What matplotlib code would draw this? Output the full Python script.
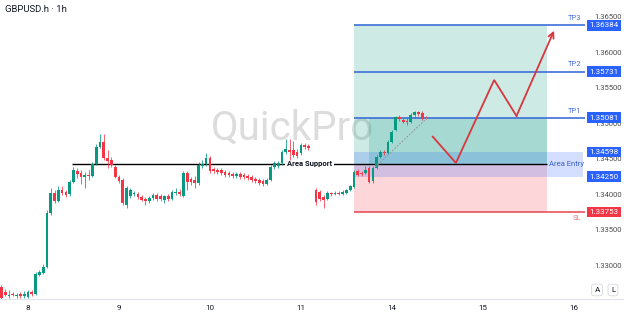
import numpy as np
import matplotlib.pyplot as plt
from matplotlib.lines import Line2D

plt.rcParams['font.family'] = ['Roboto', 'DejaVu Sans']

# hourly bars, 0 = day 8 00:00 (weekend removed, one bar missing before the gap)
bars = list(range(-7, 75)) + list(range(76, 106))

opens = [1.32697, 1.32627, 1.32571, 1.32599, 1.32571, 1.32599, 1.32571, 1.32556, 1.32627, 1.32599,
         1.32866, 1.32894, 1.32979, 1.33739, 1.34021, 1.33908, 1.34063, 1.34035, 1.34007, 1.34176,
         1.34331, 1.34303, 1.34246, 1.34275, 1.34261, 1.34430, 1.34669, 1.34739, 1.34514, 1.34486,
         1.34387, 1.34246, 1.34204, 1.33852, 1.33979, 1.34007, 1.34007, 1.33965, 1.33937, 1.33908,
         1.33951, 1.33993, 1.33979, 1.33923, 1.33979, 1.33937, 1.34021, 1.34035, 1.33979, 1.34303,
         1.34218, 1.34204, 1.34162, 1.34401, 1.34430, 1.34514, 1.34359, 1.34345, 1.34345, 1.34317,
         1.34303, 1.34289, 1.34261, 1.34289, 1.34275, 1.34261, 1.34246, 1.34218, 1.34204, 1.34190,
         1.34148, 1.34204, 1.34387, 1.34401, 1.34444, 1.34599, 1.34627, 1.34627, 1.34599, 1.34584,
         1.34697, 1.34683,
         1.34063, 1.34035, 1.33965, 1.33937, 1.34021, 1.34007, 1.34021, 1.34007, 1.34021, 1.34063,
         1.34106, 1.34331, 1.34303, 1.34303, 1.34373, 1.34190, 1.34373, 1.34528, 1.34599, 1.34584,
         1.34739, 1.34908, 1.35092, 1.35049, 1.35035, 1.35021, 1.35120, 1.35162, 1.35148, 1.35092]
highs = [1.32725, 1.32669, 1.32655, 1.32627, 1.32613, 1.32627, 1.32641, 1.32655, 1.32655, 1.32908,
         1.32937, 1.33021, 1.33782, 1.34092, 1.34063, 1.34120, 1.34120, 1.34063, 1.34204, 1.34387,
         1.34373, 1.34345, 1.34317, 1.34345, 1.34458, 1.34711, 1.34852, 1.34852, 1.34627, 1.34528,
         1.34415, 1.34275, 1.34232, 1.34120, 1.34092, 1.34049, 1.34035, 1.33993, 1.33965, 1.33979,
         1.34021, 1.34021, 1.34007, 1.33993, 1.34007, 1.34063, 1.34092, 1.34078, 1.34331, 1.34331,
         1.34246, 1.34261, 1.34458, 1.34486, 1.34584, 1.34542, 1.34387, 1.34373, 1.34373, 1.34345,
         1.34331, 1.34317, 1.34317, 1.34317, 1.34303, 1.34289, 1.34275, 1.34246, 1.34232, 1.34218,
         1.34232, 1.34415, 1.34472, 1.34472, 1.34627, 1.34782, 1.34782, 1.34753, 1.34641, 1.34725,
         1.34725, 1.34711,
         1.34092, 1.34063, 1.33993, 1.34049, 1.34035, 1.34049, 1.34049, 1.34063, 1.34078, 1.34134,
         1.34345, 1.34359, 1.34331, 1.34401, 1.34401, 1.34401, 1.34556, 1.34627, 1.34627, 1.34767,
         1.34908, 1.35106, 1.35120, 1.35077, 1.35077, 1.35148, 1.35176, 1.35176, 1.35176, 1.35106]
lows = [1.32528, 1.32571, 1.32542, 1.32571, 1.32542, 1.32542, 1.32542, 1.32542, 1.32571, 1.32585,
        1.32852, 1.32880, 1.32965, 1.33711, 1.33880, 1.33894, 1.33993, 1.33965, 1.33979, 1.34162,
        1.34232, 1.34148, 1.34092, 1.34204, 1.34246, 1.34415, 1.34655, 1.34486, 1.34373, 1.34387,
        1.34232, 1.34162, 1.33852, 1.33810, 1.33951, 1.33979, 1.33937, 1.33908, 1.33852, 1.33880,
        1.33923, 1.33908, 1.33908, 1.33880, 1.33908, 1.33923, 1.33993, 1.33979, 1.33965, 1.34063,
        1.34134, 1.34092, 1.34134, 1.34373, 1.34401, 1.34303, 1.34303, 1.34289, 1.34275, 1.34246,
        1.34246, 1.34232, 1.34232, 1.34218, 1.34218, 1.34204, 1.34176, 1.34162, 1.34134, 1.34120,
        1.34134, 1.34190, 1.34359, 1.34373, 1.34415, 1.34570, 1.34486, 1.34528, 1.34514, 1.34556,
        1.34641, 1.34627,
        1.33852, 1.33908, 1.33810, 1.33923, 1.33979, 1.33993, 1.33993, 1.33993, 1.34007, 1.34049,
        1.34092, 1.34261, 1.34261, 1.34289, 1.34162, 1.34162, 1.34359, 1.34514, 1.34556, 1.34570,
        1.34725, 1.34894, 1.35035, 1.35007, 1.34979, 1.35007, 1.35092, 1.35106, 1.35049, 1.35063]
closes = [1.32542, 1.32585, 1.32585, 1.32585, 1.32585, 1.32571, 1.32599, 1.32627, 1.32599, 1.32880,
          1.32908, 1.32979, 1.33739, 1.34021, 1.33908, 1.34063, 1.34021, 1.33993, 1.34176, 1.34345,
          1.34289, 1.34246, 1.34275, 1.34261, 1.34430, 1.34669, 1.34739, 1.34514, 1.34472, 1.34415,
          1.34246, 1.34190, 1.33880, 1.34092, 1.34063, 1.34021, 1.33965, 1.33923, 1.33908, 1.33951,
          1.33993, 1.33937, 1.33937, 1.33979, 1.33937, 1.34035, 1.34035, 1.34007, 1.34303, 1.34176,
          1.34176, 1.34162, 1.34415, 1.34430, 1.34514, 1.34331, 1.34331, 1.34317, 1.34303, 1.34275,
          1.34275, 1.34261, 1.34289, 1.34246, 1.34246, 1.34232, 1.34204, 1.34190, 1.34162, 1.34148,
          1.34204, 1.34387, 1.34444, 1.34444, 1.34599, 1.34641, 1.34599, 1.34556, 1.34542, 1.34697,
          1.34669, 1.34655,
          1.33894, 1.33937, 1.33923, 1.34021, 1.34007, 1.34021, 1.34007, 1.34035, 1.34063, 1.34120,
          1.34317, 1.34275, 1.34289, 1.34345, 1.34176, 1.34373, 1.34528, 1.34599, 1.34584, 1.34739,
          1.34880, 1.35092, 1.35063, 1.35021, 1.35021, 1.35120, 1.35162, 1.35134, 1.35063, 1.35077]

day_ticks = [0, 24, 48, 72, 96, 120, 144]
day_labels = ['8', '9', '10', '11', '14', '15', '16']
price_ticks = [1.330, 1.335, 1.340, 1.345, 1.350, 1.355, 1.360, 1.365]

# trade setup
support = 1.34430
entry_top, entry_bottom = 1.34598, 1.34250
tp1, tp2, tp3 = 1.35081, 1.35731, 1.36384
sl = 1.33753
setup_start, setup_start2, setup_end = 86, 90, 137

# projected path
path_x = [106.8, 112.9, 123.0, 128.9, 138.8]
path_y = [1.34814, 1.34444, 1.35613, 1.35106, 1.36307]
trend_x = [91.6, 105.3]
trend_y = [1.34387, 1.35077]

green, red, blue = '#089981', '#f23645', '#2962ff'

fig = plt.figure(figsize=(6.24, 3.16), dpi=100)
ax = fig.add_axes([0, 17/316, 585/624, 299/316])
ax.set_xlim(-7.39, 146.97)
ax.set_ylim(1.32528, 1.36739)
for s in ax.spines.values():
    s.set_visible(False)

# watermark
ax.text(69.9, 1.34936, 'QuickPro', fontsize=29, color='#dcdcdc',
        ha='center', va='center', zorder=0)

# position zones
ax.fill_between([setup_start, setup_end], support, tp3, color=green, alpha=0.2, lw=0, zorder=1)
ax.fill_between([setup_start2, setup_end], support, tp1, color=green, alpha=0.2, lw=0, zorder=1)
ax.fill_between([setup_start, setup_end], sl, support, color=red, alpha=0.2, lw=0, zorder=1)
ax.fill_between([setup_start, 146.4], entry_bottom, entry_top, color=blue, alpha=0.2, lw=0, zorder=1)

for p, lab in [(tp1, 'TP1'), (tp2, 'TP2'), (tp3, 'TP3')]:
    ax.hlines(p, setup_start, 147, color='#3d6ed8', lw=1.2, zorder=2)
    ax.annotate(lab, (144.3, p), xytext=(0, 3), textcoords='offset points',
                fontsize=5.5, color='#4a72d6', ha='center', va='bottom')
ax.hlines(sl, setup_start, 147, color='#e5535d', lw=1.2, zorder=2)
ax.annotate('SL', (144.8, sl), xytext=(0, -2), textcoords='offset points',
            fontsize=5.5, color='#e57c84', ha='center', va='top')
ax.text(142.2, support, 'Area Entry', fontsize=5.5, color='#3d63c9', ha='center', va='center')

# support line
ax.hlines(support, 11.6, setup_end, color='black', lw=1, zorder=2)
ax.text(74.4, support, 'Area Support', fontsize=5.5, fontweight='bold', color='#131722',
        ha='center', va='center', zorder=3,
        bbox=dict(boxstyle='square,pad=0.25', fc='white', ec='none'))

# candles
o = np.array(opens); h = np.array(highs); l = np.array(lows); c = np.array(closes)
cols = [green if cc >= oo else red for oo, cc in zip(o, c)]
ax.vlines(bars, l, h, colors=cols, lw=0.7, alpha=0.8, zorder=4)
body = np.maximum(np.abs(c - o), 0.00006)
ax.bar(bars, body, bottom=np.minimum(o, c), width=0.72, color=cols, lw=0, zorder=5)

ax.plot(trend_x, trend_y, color='#9598a1', lw=0.8, ls=(0, (1.5, 1.5)), zorder=6)

# projected move
ax.plot(path_x[:-1], path_y[:-1], color='#d9363e', lw=1.3, zorder=6, solid_joinstyle='miter')
ax.annotate('', xy=(path_x[-1], path_y[-1]), xytext=(path_x[-2], path_y[-2]),
            arrowprops=dict(arrowstyle='->', color='#d9363e', lw=1.3, mutation_scale=10,
                            shrinkA=0, shrinkB=0), zorder=6)

# axes
ax.set_xticks(day_ticks)
ax.set_xticklabels(day_labels)
ax.yaxis.tick_right()
ax.set_yticks(price_ticks)
ax.set_yticklabels([f'{p:.5f}' for p in price_ticks])
ax.tick_params(axis='x', length=0, pad=4, labelsize=5.8, labelcolor='#131722')
ax.tick_params(axis='y', length=0, pad=7, labelsize=5.5, labelcolor='#4a4a4a')

# price badges
for p, col in [(tp3, blue), (tp2, blue), (tp1, blue), (entry_top, blue), (entry_bottom, blue), (sl, red)]:
    ax.text(1.0075, p, f'{p:.5f}', transform=ax.get_yaxis_transform(), fontsize=5.8,
            color='white', ha='left', va='center', clip_on=False, zorder=10,
            bbox=dict(boxstyle='square,pad=0.3', fc=col, ec='none'))

fig.add_artist(Line2D([0, 1], [17/316, 17/316], transform=fig.transFigure, color='#e0e3eb', lw=0.8))
fig.text(5/624, 1 - 10/316, 'GBPUSD.h \u00b7 1h', fontsize=6.8, color='#131722', va='center')
for xp, t in [(597, 'A'), (613, 'L')]:
    fig.text(xp/624, 1 - 290/316, t, fontsize=5.8, color='#131722', ha='center', va='center',
             bbox=dict(boxstyle='round,pad=0.35,rounding_size=0.3', fc='white', ec='#d6d8de', lw=0.6))

plt.savefig('out.png', dpi=100)
